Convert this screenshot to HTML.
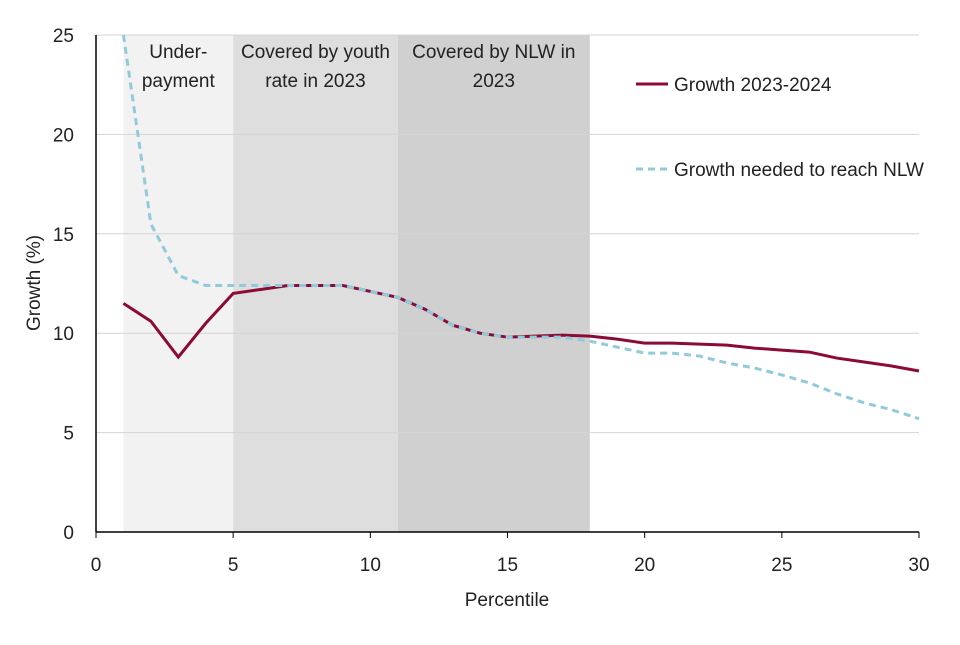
<!DOCTYPE html>
<html><head><meta charset="utf-8"><style>
body{margin:0;background:#fff}
svg text{font-family:"Liberation Sans Narrow","Liberation Sans",sans-serif;fill:#222}
</style></head><body>
<svg width="960" height="640" id="c"></svg>
<script>
const percentiles=[1,2,3,4,5,6,7,8,9,10,11,12,13,14,15,16,17,18,19,20,21,22,23,24,25,26,27,28,29,30];
const growth=[11.5,10.6,8.8,10.5,12.0,12.2,12.4,12.4,12.4,12.1,11.8,11.2,10.4,10.0,9.8,9.85,9.9,9.85,9.7,9.5,9.5,9.45,9.4,9.25,9.15,9.05,8.75,8.55,8.35,8.1];
const needed=[25,15.5,12.9,12.4,12.4,12.4,12.4,12.4,12.4,12.1,11.8,11.2,10.4,10.0,9.8,9.8,9.8,9.6,9.3,9.0,9.0,8.85,8.5,8.25,7.9,7.5,6.95,6.5,6.15,5.7];
const xTicks=[0,5,10,15,20,25,30];
const yTicks=[0,5,10,15,20,25];
const bands=[{x0:1,x1:5,label:["Under-","payment"]},{x0:5,x1:11,label:["Covered by youth","rate in 2023"]},{x0:11,x1:18,label:["Covered by NLW in","2023"]}];
const bandColors=["#f2f2f2","#dedede","#d0d0d0"];
const NS="http://www.w3.org/2000/svg";
const svg=document.getElementById('c');
const X=v=>96+v*(919-96)/30, Y=v=>532-v*(532-35)/25;
function mk(t,a,p){const e=document.createElementNS(NS,t);for(const k in a)e.setAttribute(k,a[k]);(p||svg).appendChild(e);return e;}
bands.forEach((b,i)=>{
 const r=mk('rect',{x:X(b.x0),y:Y(25),width:X(b.x1)-X(b.x0),height:Y(0)-Y(25),fill:bandColors[i]});
 
 
 b.label.forEach((l,j)=>{const t=mk('text',{x:(X(b.x0)+X(b.x1))/2,y:58+j*29,'text-anchor':'middle','font-size':19});t.textContent=l;
 
 });
});
yTicks.forEach(v=>{
 if(v>0){const g=mk('line',{x1:X(0),x2:X(30),y1:Y(v),y2:Y(v),stroke:'#d4d4d4','stroke-width':1});
 
 }
 const t=mk('text',{x:74,y:Y(v)+7,'text-anchor':'end','font-size':19});t.textContent=v;
 
 
});
xTicks.forEach(v=>{
 mk('line',{x1:X(v),x2:X(v),y1:532,y2:538,stroke:'#000'});
 const t=mk('text',{x:X(v),y:571,'text-anchor':'middle','font-size':19});t.textContent=v;
 
 
});
mk('line',{x1:96,x2:96,y1:35,y2:532,stroke:'#000','stroke-width':1.5});
mk('line',{x1:96,x2:919,y1:532,y2:532,stroke:'#000','stroke-width':1.5});
const pts=a=>a.map((v,i)=>X(percentiles[i])+','+Y(v)).join(' ');
const l1=mk('polyline',{points:pts(growth),fill:'none',stroke:'#8b0a38','stroke-width':3});


const l2=mk('polyline',{points:pts(needed),fill:'none',stroke:'#92cadb','stroke-width':3,'stroke-dasharray':'7,5'});


const lg=mk('g',{});


mk('line',{x1:636,x2:668,y1:84,y2:84,stroke:'#8b0a38','stroke-width':3},lg);
let t=mk('text',{x:674,y:91,'font-size':19},lg);t.textContent='Growth 2023-2024';
mk('line',{x1:636,x2:668,y1:169,y2:169,stroke:'#92cadb','stroke-width':3,'stroke-dasharray':'7,5'},lg);
t=mk('text',{x:674,y:176,'font-size':19},lg);t.textContent='Growth needed to reach NLW';
t=mk('text',{x:507,y:606,'text-anchor':'middle','font-size':19});t.textContent='Percentile';


t=mk('text',{x:0,y:0,'text-anchor':'middle','font-size':19,transform:'translate(40,283) rotate(-90)'});t.textContent='Growth (%)';


</script>
</body></html>
